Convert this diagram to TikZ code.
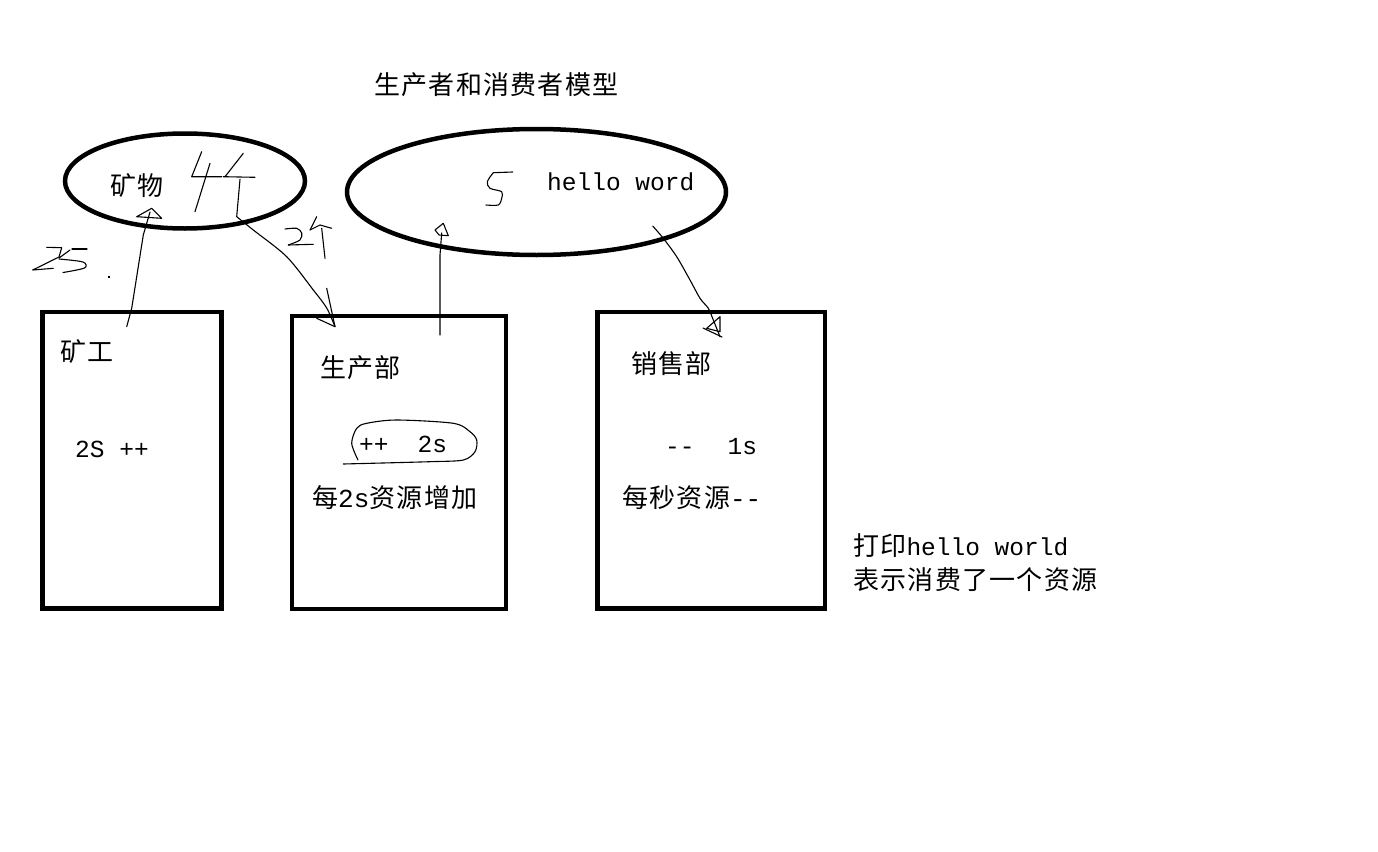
\documentclass[tikz,border=0pt]{standalone}
\usepackage{fontspec}
\setmonofont{Liberation Mono}
\newfontfamily\cjk{Noto Sans CJK SC}[LetterSpace=5]
\usetikzlibrary{shapes.geometric}
\newcommand\myfs[1]{\fontsize{#1}{#1}\selectfont}
\tikzset{
  frame/.style={draw, line width=4.5pt},
  hand/.style={line width=1.1pt, line join=round, line cap=round},
  lbl/.style={inner sep=0pt, anchor=west, font=\ttfamily\myfs{26}},
  lat/.style={font=\ttfamily\myfs{24.5}},
}
\begin{document}
\begin{tikzpicture}[x=1pt,y=-1pt]
\useasboundingbox[fill=white] (0,0) rectangle (1378,851);

% ellipses
\node[frame, ellipse, minimum width=240pt, minimum height=95pt, inner sep=0pt] (mine) at (185,181) {};
\node[frame, ellipse, minimum width=379pt, minimum height=126pt, inner sep=0pt] (store) at (536.5,192) {};

% boxes
\draw[line width=4.5pt] (42.5,312) rectangle (221.5,608.5);
\draw[line width=4.5pt] (292,316) rectangle (506,609);
\draw[line width=4.5pt] (597.5,312) rectangle (825,608.5);

% texts
\node[lbl] (title) at (374,85) {\cjk 生产者和消费者模型};
\node[lbl] (mineral) at (110,186) {\cjk 矿物};
\node[lbl, lat] (hw) at (547,182) {hello word};
\node[lbl] (miner) at (60,352) {\cjk 矿工};
\node[lbl, lat] (miner2) at (75,449) {2S ++};
\node[lbl] (prod) at (320,368) {\cjk 生产部};
\node[lbl, lat] (prod2) at (359,444) {++\hspace{29pt}2s};
\node[lbl] (prod3) at (312,498) {{\cjk 每}2s{\cjk 资源增加}};
\node[lbl] (sale) at (631,364) {\cjk 销售部};
\node[lbl, lat] (sale2) at (665,447) {-{}-\hspace{33pt}1s};
\node[lbl] (sale3) at (622,498) {{\cjk 每秒资源}-{}-};
\node[lbl, lat] (note1) at (853,546) {{\cjk\myfs{26}打印}hello world};
\node[lbl] (note2) at (853,580) {\cjk 表示消费了一个资源};

% handwritten "4个"
\draw[hand] (201.7,151.7) -- (191.7,176.7) -- (221.7,176.7);
\draw[hand] (210,163.3) -- (195,211.7);
\draw[hand] (243.3,153.3) -- (225,176.7);
\draw[hand] (223.3,176.7) -- (255,177.3);
% vertical of 个 continuing into curved arrow
\coordinate (c1) at (240,179.3);
\coordinate (c2tip) at (335,326.7);
\draw[hand] (c1) -- (236.7,216.7) plot[smooth] coordinates {(236.7,216.7) (253.3,230) (286.7,256.7) (313.3,290) (326.7,308) (335,326.7)};
\draw[hand] (326.7,288.3) -- (c2tip) -- (316.7,318.3);

% handwritten "2个"
\draw[hand] plot[smooth] coordinates {(285,229) (296.7,228.3) (301.7,233) (300,240) (288.3,245)};
\draw[hand] (288.3,245) -- (313.3,244.3);
\draw[hand] (316.7,216.7) -- (310,230);
\draw[hand] (310,230) -- (320,225) -- (331.7,228.3);
\draw[hand] (321.7,228.3) -- (325,258.3);

% handwritten "25."
\draw[hand] (46.7,247.3) -- (61.7,247.7) -- (59,257) -- (32.7,270) -- (53.3,268.3);
\draw[hand] (72,249) -- (87,249);
\draw[hand] (70,250) -- (59,258);
\draw[hand] plot[smooth] coordinates {(59,259) (83,262) (84.5,268) (63,272.5)};
\fill (107.5,276) rectangle (109.5,278);

% handwritten "5"
\draw[hand] (512.7,172) -- (493.3,172.7);
\draw[hand] plot[smooth] coordinates {(493.3,172.7) (487.3,181.7) (490,188.3) (501.7,191.7) (501.7,198.3) (498.3,205) (486,205)};

% arrow miner -> mineral
\coordinate (a1s) at (126.7,326.7);
\coordinate (a1e) at (150,212);
\draw[hand] (a1s) -- (131.7,308.3) -- (143.3,235) -- (a1e);
\draw[hand] (136.7,216.7) -- (151.7,208.3) -- (161.7,218.3) -- cycle;

% arrow production -> store
\coordinate (a3s) at (440,335);
\coordinate (a3e) at (441.7,233);
\draw[hand] (a3s) -- (440,255) -- (a3e);
\draw[hand] (435,230) -- (443.3,223.3) -- (448.3,235.7) -- (439,235) -- cycle;

% arrow store -> sales
\coordinate (a4s) at (652.7,226);
\coordinate (a4e) at (720,336.7);
\draw[hand] plot[smooth] coordinates {(652.7,226) (663.3,238.3) (676.7,256.7) (690,280) (700,298.3) (708.3,308.3) (713.3,320) (720,336.7)};
\draw[hand] (720,316.7) -- (706.7,328.3) -- (720,331.7) -- cycle;
\draw[hand] (703,328) -- (722,337);

% loop around "++ 2s"
\draw[hand] plot[smooth] coordinates {(358,460) (351.7,443.3) (356.7,428.3) (366.7,423.3) (396.7,420) (453.3,423.3) (470,431.7) (476.7,440) (475,451.7) (463.3,460) (430,461.7) (343.3,464)};
\end{tikzpicture}
\end{document}
